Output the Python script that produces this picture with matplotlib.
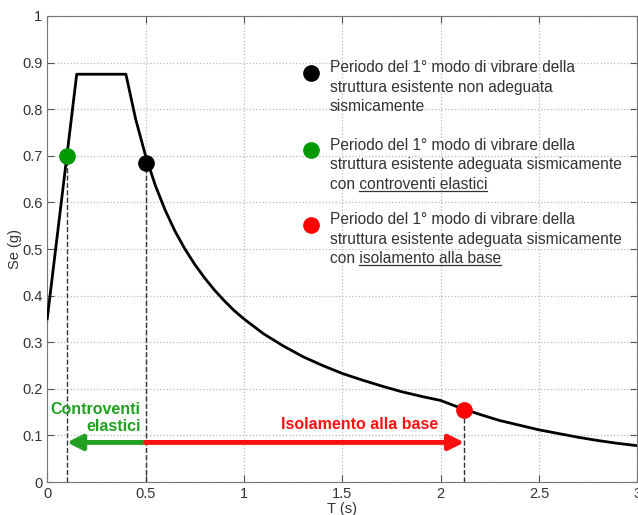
"""Elastic response spectrum with the first-mode periods of the three
structural configurations (existing, braced, base-isolated)."""

import matplotlib
matplotlib.use("Agg")
import matplotlib.pyplot as plt

plt.rcParams["font.family"] = ["Liberation Sans", "DejaVu Sans"]

# spectrum: T (s), Se (g)
T = [0.00, 0.15, 0.40, 0.45, 0.50, 0.55, 0.60, 0.65, 0.70, 0.75, 0.80,
     0.85, 0.90, 0.95, 1.00, 1.10, 1.20, 1.30, 1.40, 1.50, 1.60, 1.70,
     1.80, 1.90, 2.00, 2.10, 2.20, 2.30, 2.40, 2.50, 2.60, 2.70, 2.80,
     2.90, 3.00]
SE = [0.350, 0.875, 0.875, 0.778, 0.700, 0.636, 0.583, 0.538, 0.500,
      0.467, 0.438, 0.412, 0.389, 0.368, 0.350, 0.318, 0.292, 0.269,
      0.250, 0.233, 0.219, 0.206, 0.194, 0.184, 0.175, 0.159, 0.145,
      0.132, 0.122, 0.112, 0.104, 0.096, 0.089, 0.083, 0.078]

# first-mode periods
PERIOD_T = [0.50, 0.10, 2.12]
PERIOD_SE = [0.685, 0.700, 0.155]
PERIOD_COLORS = ["black", "#009900", "#ff0000"]

LEGEND_Y = [0.878, 0.712, 0.552]
LEGEND_TEXT = [
    ["Periodo del 1° modo di vibrare della",
     "struttura esistente non adeguata", "sismicamente"],
    ["Periodo del 1° modo di vibrare della",
     "struttura esistente adeguata sismicamente",
     "con controventi elastici"],
    ["Periodo del 1° modo di vibrare della",
     "struttura esistente adeguata sismicamente",
     "con isolamento alla base"],
]
UNDERLINED = [None, "controventi elastici", "isolamento alla base"]

ARROW_Y = 0.085

fig = plt.figure(figsize=(6.38, 5.15), dpi=100)
ax = fig.add_axes([0.074, 0.064, 0.925, 0.905])
ax.set_xlim(0, 3)
ax.set_ylim(0, 1)

ax.plot(T, SE, color="black", lw=2.0, zorder=3)

for t, s, c in zip(PERIOD_T, PERIOD_SE, PERIOD_COLORS):
    ax.plot([t, t], [0, s], color="#333333", ls="--", lw=1.0, zorder=2)
    ax.plot(t, s, "o", ms=11, color=c, zorder=5)

# arrows from the existing period
head = "-|>,head_length=0.9,head_width=0.45"
ax.annotate("", xy=(PERIOD_T[1], ARROW_Y), xytext=(PERIOD_T[0], ARROW_Y),
            arrowprops=dict(arrowstyle=head, color="#22a022", lw=3.5,
                            shrinkA=0, shrinkB=0), zorder=4)
ax.annotate("", xy=(PERIOD_T[2], ARROW_Y), xytext=(PERIOD_T[0], ARROW_Y),
            arrowprops=dict(arrowstyle=head, color="#ff1010", lw=3.5,
                            shrinkA=0, shrinkB=0), zorder=4)
ax.text(0.475, 0.104, "Controventi\nelastici", color="#22a022",
        fontsize=11.5, fontweight="bold", ha="right", va="bottom",
        linespacing=1.1)
ax.text(1.99, 0.108, "Isolamento alla base", color="#ff1010",
        fontsize=11.5, fontweight="bold", ha="right", va="bottom")

ax.set_xticks([0, 0.5, 1, 1.5, 2, 2.5, 3])
ax.set_xticklabels(["0", "0.5", "1", "1.5", "2", "2.5", "3"])
ax.set_yticks([i / 10 for i in range(11)])
ax.set_yticklabels(["0", "0.1", "0.2", "0.3", "0.4", "0.5", "0.6", "0.7",
                    "0.8", "0.9", "1"])
ax.set_xlim(0, 3)
ax.set_ylim(0, 1)

# legend block, one text per line so the underline can be placed
fs = 11.2
step = 0.042
fig.canvas.draw()
rend = fig.canvas.get_renderer()
inv = ax.transData.inverted()
for y, c, lines, under in zip(LEGEND_Y, PERIOD_COLORS, LEGEND_TEXT,
                              UNDERLINED):
    ax.plot(1.34, y, "o", ms=11, color=c, zorder=5)
    for i, line in enumerate(lines):
        yl = y + 0.011 - i * step
        t = ax.text(1.435, yl, line, fontsize=fs, color="#333333",
                    va="center", ha="left")
        if under is None or i != len(lines) - 1:
            continue
        probe = ax.text(0, 0, under, fontsize=fs)
        w = probe.get_window_extent(rend).width
        probe.remove()
        bb = t.get_window_extent(rend)
        xa, ya = inv.transform((bb.x1 - w, bb.y0 + 1))
        xb = inv.transform((bb.x1, bb.y0))[0]
        ax.plot([xa, xb], [ya, ya], color="#333333", lw=0.9)

ax.tick_params(direction="in", top=True, right=True, labelsize=10.5,
               colors="#555555", labelcolor="#333333", length=5)
ax.grid(True, ls=":", color="#bbbbbb", lw=0.9)
for sp in ax.spines.values():
    sp.set_color("#777777")
ax.set_xlabel("T (s)", fontsize=10.5, color="#333333", labelpad=1)
ax.set_ylabel("Se (g)", fontsize=10.5, color="#333333", labelpad=0)

fig.savefig("out.png", dpi=100)
